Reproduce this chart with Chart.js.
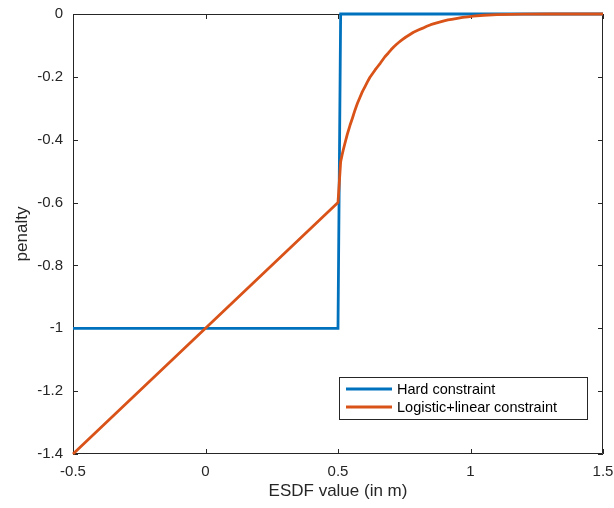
<!DOCTYPE html>
<html>
<head>
<meta charset="utf-8">
<script src="https://cdn.jsdelivr.net/npm/chart.js@4"></script>
<style>
html,body{margin:0;padding:0;background:#fff;}
#wrap{width:614px;height:508px;position:relative;}
</style>
</head>
<body>
<div id="wrap"><canvas id="c" width="614" height="508"></canvas></div>
<script>
// ---- data ----
const seriesNames = ['Hard constraint', 'Logistic+linear constraint'];
const xHard = [-0.5, 0.5, 0.51, 1.5];
const yHard = [-1, -1, 0, 0];
const xLogistic = [-0.5, 0.5, 0.51, 0.515, 0.52, 0.526, 0.535, 0.545, 0.555, 0.564, 0.573, 0.583, 0.592, 0.602, 0.611, 0.62, 0.63, 0.64, 0.65, 0.66, 0.677, 0.69, 0.70, 0.71, 0.72, 0.73, 0.74, 0.755, 0.77, 0.785, 0.803, 0.82, 0.835, 0.85, 0.866, 0.883, 0.9, 0.915, 0.929, 0.95, 0.97, 0.99, 1.01, 1.05, 1.1, 1.15, 1.2, 1.3, 1.5];
const yLogistic = [-1.4, -0.6, -0.47, -0.45, -0.432, -0.412, -0.383, -0.355, -0.33, -0.306, -0.285, -0.265, -0.247, -0.231, -0.216, -0.202, -0.19, -0.178, -0.167, -0.156, -0.136, -0.124, -0.114, -0.105, -0.097, -0.09, -0.083, -0.074, -0.066, -0.058, -0.051, -0.045, -0.039, -0.034, -0.030, -0.026, -0.022, -0.019, -0.017, -0.014, -0.011, -0.009, -0.007, -0.004, -0.002, -0.001, -0.0005, 0, 0];
const xTicks = [-0.5, 0, 0.5, 1, 1.5];
const xTickLabels = ['-0.5', '0', '0.5', '1', '1.5'];
const yTicks = [-1.4, -1.2, -1, -0.8, -0.6, -0.4, -0.2, 0];
const yTickLabels = ['-1.4', '-1.2', '-1', '-0.8', '-0.6', '-0.4', '-0.2', '0'];
const xTitle = 'ESDF value (in m)';
const yTitle = 'penalty';

const colors = ['#0072BD', '#D95319'];
const axisColor = '#262626';
const FONT = "'Liberation Sans', Arial, Helvetica, sans-serif";

function pts(xs, ys) { return xs.map((x, i) => ({x: x, y: ys[i]})); }

const framePlugin = {
  id: 'frame',
  beforeDatasetsDraw(chart) {
    const {ctx, chartArea: a, scales} = chart;
    ctx.save();
    ctx.strokeStyle = axisColor;
    ctx.lineWidth = 1;
    ctx.beginPath();
    ctx.rect(a.left + 0.5, a.top + 0.5, a.right - a.left - 1, a.bottom - a.top - 1);
    ctx.stroke();
    const tl = 5;
    ctx.beginPath();
    xTicks.forEach(v => {
      const px = Math.round(scales.x.getPixelForValue(v)) + 0.5;
      ctx.moveTo(px, a.bottom); ctx.lineTo(px, a.bottom - tl);
      ctx.moveTo(px, a.top); ctx.lineTo(px, a.top + tl);
    });
    yTicks.forEach(v => {
      const py = Math.round(scales.y.getPixelForValue(v)) + 0.5;
      ctx.moveTo(a.left, py); ctx.lineTo(a.left + tl, py);
      ctx.moveTo(a.right, py); ctx.lineTo(a.right - tl, py);
    });
    ctx.stroke();
    ctx.restore();
  }
};

const legendPlugin = {
  id: 'boxLegend',
  afterDraw(chart) {
    const {ctx} = chart;
    const bx = 339.5, by = 377.5, bw = 248, bh = 42;
    ctx.save();
    ctx.fillStyle = '#fff';
    ctx.fillRect(bx, by, bw, bh);
    ctx.strokeStyle = axisColor;
    ctx.lineWidth = 1;
    ctx.strokeRect(bx, by, bw, bh);
    ctx.font = '14.5px ' + FONT;
    ctx.textBaseline = 'middle';
    ctx.textAlign = 'left';
    const rows = [389, 407];
    chart.data.datasets.forEach((ds, i) => {
      const y = rows[i];
      ctx.strokeStyle = ds.borderColor;
      ctx.lineWidth = 2.8;
      ctx.beginPath();
      ctx.moveTo(346, y); ctx.lineTo(392, y);
      ctx.stroke();
      ctx.fillStyle = '#000';
      ctx.fillText(ds.label, 397, y + 0.5);
    });
    ctx.restore();
  }
};

new Chart(document.getElementById('c'), {
  type: 'scatter',
  data: {
    datasets: [
      {
        label: seriesNames[0],
        data: pts(xHard, yHard),
        showLine: true,
        borderColor: colors[0],
        backgroundColor: colors[0],
        borderWidth: 2.8,
        pointRadius: 0,
        tension: 0,
        clip: 5,
        order: 1
      },
      {
        label: seriesNames[1],
        data: pts(xLogistic, yLogistic),
        showLine: true,
        borderColor: colors[1],
        backgroundColor: colors[1],
        borderWidth: 2.8,
        pointRadius: 0,
        tension: 0,
        borderJoinStyle: 'round',
        clip: 5,
        order: 0
      }
    ]
  },
  options: {
    responsive: false,
    animation: false,
    devicePixelRatio: 1,
    layout: {padding: {left: 0, right: 11, top: 14, bottom: 0}},
    plugins: {legend: {display: false}, tooltip: {enabled: false}},
    scales: {
      x: {
        type: 'linear',
        min: -0.5, max: 1.5,
        afterBuildTicks(s) { s.ticks = xTicks.map(v => ({value: v})); },
        afterFit(s) { s.height = 54; s.paddingLeft = 0; s.paddingRight = 0; },
        ticks: {
          callback: (v) => xTickLabels[xTicks.indexOf(v)],
          font: {family: FONT, size: 15},
          color: axisColor,
          padding: 9,
          maxRotation: 0,
          autoSkip: false
        },
        grid: {display: false, drawTicks: false},
        border: {display: false},
        title: {
          display: true,
          text: xTitle,
          font: {family: FONT, size: 17},
          color: axisColor,
          padding: {top: 4, bottom: 6}
        }
      },
      y: {
        type: 'linear',
        min: -1.4, max: 0,
        afterBuildTicks(s) { s.ticks = yTicks.map(v => ({value: v})); },
        afterFit(s) { s.width = 73; s.paddingTop = 0; s.paddingBottom = 0; },
        ticks: {
          callback: (v) => yTickLabels[yTicks.indexOf(v)],
          font: {family: FONT, size: 15},
          color: axisColor,
          padding: 10,
          autoSkip: false
        },
        grid: {display: false, drawTicks: false},
        border: {display: false},
        title: {
          display: true,
          text: yTitle,
          font: {family: FONT, size: 17},
          color: axisColor,
          padding: {top: 12, bottom: 12}
        }
      }
    }
  },
  plugins: [framePlugin, legendPlugin]
});
</script>
</body>
</html>
